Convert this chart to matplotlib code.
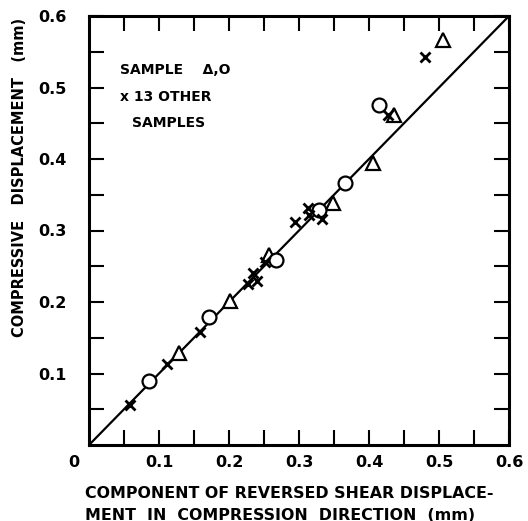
import matplotlib.pyplot as plt
from matplotlib.ticker import MultipleLocator

# values (mm)
tri_x = [0.129, 0.201, 0.257, 0.349, 0.406, 0.436, 0.506]
tri_y = [0.129, 0.201, 0.266, 0.338, 0.394, 0.462, 0.566]

circ_x = [0.086, 0.171, 0.267, 0.329, 0.366, 0.414]
circ_y = [0.090, 0.179, 0.259, 0.329, 0.366, 0.476]

cross_x = [0.059, 0.111, 0.159, 0.227, 0.234, 0.240, 0.251,
           0.294, 0.313, 0.314, 0.333, 0.427, 0.480]
cross_y = [0.056, 0.113, 0.158, 0.225, 0.241, 0.229, 0.256,
           0.312, 0.331, 0.322, 0.316, 0.462, 0.543]

xtick_labels = ['0.1', '0.2', '0.3', '0.4', '0.5', '0.6']
ytick_labels = ['0.1', '0.2', '0.3', '0.4', '0.5', '0.6']

plt.rcParams['font.family'] = ['DejaVu Sans']
plt.rcParams['font.weight'] = 'bold'

fig = plt.figure(figsize=(5.28, 5.21), dpi=100)
ax = fig.add_axes([89 / 528, 76 / 521, 420 / 528, 429 / 521])

ax.plot([0, 0.6], [0, 0.6], color='black', lw=1.6, zorder=1)
ax.plot(tri_x, tri_y, ls='none', marker='^', ms=10, mfc='white', mec='black', mew=1.6, zorder=3)
ax.plot(circ_x, circ_y, ls='none', marker='o', ms=10, mfc='white', mec='black', mew=1.6, zorder=3)
ax.plot(cross_x, cross_y, ls='none', marker='x', ms=7, mec='black', mew=2.0, zorder=3)

ax.set_xlim(0, 0.6)
ax.set_ylim(0, 0.6)
ax.xaxis.set_major_locator(MultipleLocator(0.05))
ax.yaxis.set_major_locator(MultipleLocator(0.05))
ax.set_xticks([0.1, 0.2, 0.3, 0.4, 0.5, 0.6], xtick_labels)
ax.set_yticks([0.1, 0.2, 0.3, 0.4, 0.5, 0.6], ytick_labels)
ax.set_xticks([0.05, 0.15, 0.25, 0.35, 0.45, 0.55], minor=True)
ax.set_yticks([0.05, 0.15, 0.25, 0.35, 0.45, 0.55], minor=True)
ax.tick_params(which='both', direction='in', length=11, width=1.5,
               top=True, right=True, labelsize=11.5)
ax.tick_params(axis='x', pad=7)
ax.tick_params(axis='y', pad=16)
for s in ax.spines.values():
    s.set_linewidth(2.2)

ax.text(-0.014, -0.024, '0', ha='right', va='center', fontsize=11.5)

fig.text(20 / 528, 1 - 177 / 521, 'COMPRESSIVE   DISPLACEMENT   (mm)', rotation=90,
         ha='center', va='center', fontsize=10.5)
fig.text(85 / 528, 1 - 493 / 521, 'COMPONENT OF REVERSED SHEAR DISPLACE-',
         ha='left', va='center', fontsize=11.4)
fig.text(85 / 528, 1 - 515 / 521, 'MENT  IN  COMPRESSION  DIRECTION  (mm)',
         ha='left', va='center', fontsize=11.4)

ax.text(0.045, 0.524, 'SAMPLE    \u0394,O', fontsize=10, va='center')
ax.text(0.045, 0.487, 'x 13 OTHER', fontsize=10, va='center')
ax.text(0.062, 0.451, 'SAMPLES', fontsize=10, va='center')

fig.savefig('out.png', dpi=100)
